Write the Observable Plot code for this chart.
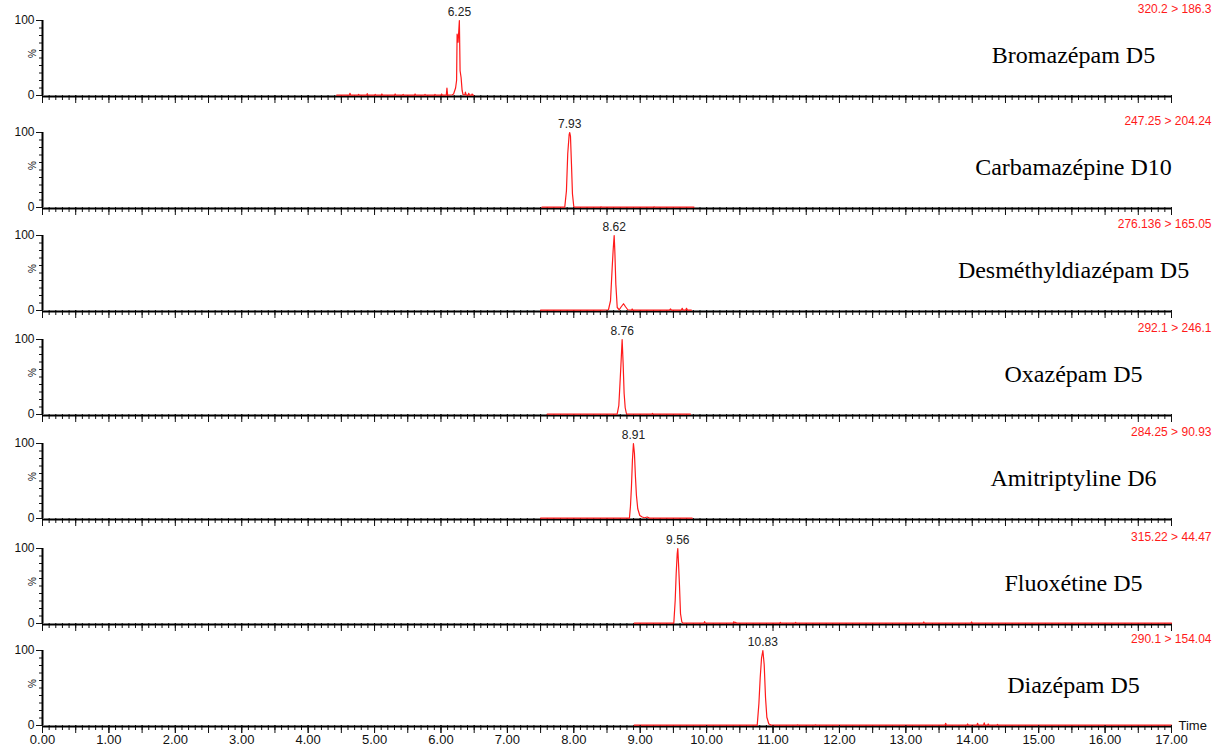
<!DOCTYPE html>
<html>
<head>
<meta charset="utf-8">
<script src="https://cdn.jsdelivr.net/npm/d3@7"></script>
<script src="https://cdn.jsdelivr.net/npm/@observablehq/plot@0.6"></script>
<style>
  html, body { margin: 0; padding: 0; background: #fff; }
  #chart { position: relative; width: 1225px; height: 751px; overflow: hidden; }
  #chart svg { position: absolute; left: 0; }
</style>
</head>
<body>
<div id="chart"></div>
<script>
// ---------- data ----------
const compounds = ["Bromazépam D5", "Carbamazépine D10", "Desméthyldiazépam D5", "Oxazépam D5", "Amitriptyline D6", "Fluoxétine D5", "Diazépam D5"];
const transitions = ["320.2 > 186.3", "247.25 > 204.24", "276.136 > 165.05", "292.1 > 246.1", "284.25 > 90.93", "315.22 > 44.47", "290.1 > 154.04"];
const peakLabels = ["6.25", "7.93", "8.62", "8.76", "8.91", "9.56", "10.83"];
const xTickValues = [0, 1, 2, 3, 4, 5, 6, 7, 8, 9, 10, 11, 12, 13, 14, 15, 16, 17];
const yTickValues = [0, 100];

// chromatograms: [time (min), relative intensity (%)]
const bromazepam = [
  [4.43, 0.5], [4.62, 0.5], [4.63, 3], [4.64, 0.5], [4.75, 0.5], [4.76, 1.5], [4.77, 0.5],
  [4.88, 0.5], [4.89, 2.5], [4.90, 0.5], [5.00, 0.5], [5.01, 1.5], [5.02, 0.5], [5.10, 0.5],
  [5.11, 2], [5.12, 0.5], [5.30, 0.5], [5.31, 2], [5.32, 0.5], [5.42, 0.5], [5.43, 1.5],
  [5.44, 0.5], [5.60, 0.5], [5.61, 2], [5.62, 0.5], [5.75, 0.5], [5.76, 1.5], [5.77, 0.5],
  [5.90, 0.5], [5.91, 1.5], [5.92, 0.5], [6.00, 0.5], [6.01, 2], [6.02, 0.5], [6.08, 0.5],
  [6.09, 10], [6.10, 0.5], [6.17, 1], [6.19, 2], [6.22, 10], [6.235, 20], [6.243, 82],
  [6.258, 71], [6.277, 100], [6.288, 33], [6.303, 24], [6.318, 7], [6.333, 1],
  [6.36, 1], [6.368, 4.4], [6.38, 0.5], [6.41, 0.5], [6.418, 3], [6.43, 0.5], [6.46, 0.5],
  [6.469, 2], [6.48, 0.5], [6.49, 0.5]
];
const carbamazepine = [
  [7.52, 0.5], [7.70, 0.5], [7.864, 0.5], [7.889, 22], [7.909, 72], [7.93, 97], [7.939, 100],
  [7.95, 95], [7.965, 58], [7.98, 18], [8.0, 1], [8.02, 0.5], [8.40, 0.5], [8.41, 1], [8.42, 0.5],
  [9.20, 0.5], [9.21, 1], [9.22, 0.5], [9.81, 0.5]
];
const desmethyldiazepam = [
  [7.50, 0.5], [8.40, 0.5], [8.522, 1], [8.553, 13], [8.578, 57], [8.593, 81], [8.608, 100],
  [8.618, 79], [8.633, 35], [8.654, 4], [8.684, 1], [8.714, 5], [8.749, 9], [8.779, 5],
  [8.813, 1], [8.87, 0.5], [8.879, 2], [8.89, 0.5], [9.44, 0.5], [9.456, 2], [9.47, 0.5],
  [9.62, 0.5], [9.632, 3], [9.645, 0.5], [9.685, 0.5], [9.697, 3], [9.71, 0.5], [9.77, 0.5]
];
const oxazepam = [
  [7.60, 0.5], [8.50, 0.5], [8.653, 0.5], [8.678, 12], [8.693, 37], [8.708, 63], [8.728, 100],
  [8.743, 68], [8.758, 28], [8.774, 9], [8.793, 1], [8.81, 0.5], [9.175, 0.5], [9.185, 1.5],
  [9.195, 0.5], [9.757, 0.5]
];
const amitriptyline = [
  [7.50, 0.5], [8.70, 0.5], [8.838, 0.5], [8.853, 16], [8.868, 42], [8.883, 78], [8.898, 100],
  [8.913, 87], [8.928, 56], [8.943, 31], [8.963, 13], [8.994, 4], [9.03, 2], [9.064, 1],
  [9.105, 2], [9.14, 0.5], [9.783, 0.5]
];
const fluoxetine = [
  [8.91, 0.5], [9.30, 0.5], [9.506, 0.5], [9.527, 31], [9.542, 67], [9.557, 93], [9.566, 100],
  [9.577, 80], [9.592, 49], [9.607, 13], [9.627, 2], [9.646, 0.5], [9.96, 0.5], [9.97, 2.5],
  [9.98, 0.5], [10.40, 0.5], [10.41, 2.5], [10.42, 0.5], [10.44, 1.5], [10.45, 0.5],
  [11.10, 0.5], [11.11, 1.5], [11.12, 0.5], [11.33, 0.5], [11.34, 1.5], [11.35, 0.5],
  [13.26, 0.5], [13.27, 2], [13.28, 0.5], [13.98, 0.5], [13.99, 2], [14.00, 0.5], [17.0, 0.5]
];
const diazepam = [
  [8.91, 0.5], [10.60, 0.5], [10.762, 0.5], [10.787, 29], [10.807, 64], [10.827, 90], [10.847, 100],
  [10.867, 81], [10.887, 37], [10.907, 11], [10.937, 2], [10.973, 0.5], [11.36, 0.5], [11.37, 1],
  [11.38, 0.5], [11.63, 0.5], [11.64, 1], [11.65, 0.5], [13.59, 0.5], [13.60, 3], [13.61, 0.5],
  [13.92, 0.5], [13.93, 2], [13.94, 0.5], [14.07, 0.5], [14.08, 3], [14.09, 0.5], [14.17, 0.5],
  [14.18, 3.5], [14.19, 0.5], [14.23, 0.5], [14.24, 2], [14.25, 0.5], [14.37, 0.5], [14.38, 1.5],
  [14.39, 0.5], [17.0, 0.5]
];
const traces = [bromazepam, carbamazepine, desmethyldiazepam, oxazepam, amitriptyline, fluoxetine, diazepam];

// ---------- layout ----------
const panelTops = [0, 112, 215, 319, 423, 528, 630];
const W = 1225, H = 751;
const mLeft = 42, mRight = 54, mTop = 20, plotH = 75;
const red = "#ff1a1a";
const minorX = d3.range(0, 17.001, 0.1).map(d => +d.toFixed(1));
const halfX = d3.range(0, 17.001, 0.5);
const minorY = d3.range(10, 100, 10);

const chart = document.getElementById("chart");

compounds.forEach((name, i) => {
  const top = panelTops[i];
  const height = (i < compounds.length - 1 ? panelTops[i + 1] : H) - top;
  const last = i === compounds.length - 1;
  const trace = traces[i];
  const apex = d3.greatest(trace, d => d[1]);

  const marks = [
    Plot.axisX({ticks: minorX, tickSize: 5, tickFormat: () => "", label: null, strokeWidth: 1}),
    Plot.axisX({ticks: halfX, tickSize: 8, tickFormat: () => "", label: null, strokeWidth: 1}),
    Plot.axisY({ticks: minorY, tickSize: 3, tickFormat: () => "", label: null}),
    Plot.axisY({ticks: yTickValues, tickSize: 6, tickPadding: 2, fontSize: 12, label: null}),
    Plot.text(["%"], {frameAnchor: "left", dx: -10, rotate: -90, fontSize: 10, fill: "#111"}),
    Plot.ruleY([0], {x1: 0, x2: 17, stroke: "black", strokeWidth: 2, dy: 1}),
    Plot.ruleX([0], {y1: 0, y2: 100, stroke: "black", strokeWidth: 2}),
    Plot.line(trace, {x: d => d[0], y: d => d[1], stroke: red, strokeWidth: 1.2}),
    Plot.text([apex], {x: d => d[0], y: d => d[1], text: () => peakLabels[i], dy: -8, lineAnchor: "middle", fontSize: 12, fill: "#222"}),
    Plot.text([transitions[i]], {frameAnchor: "top-right", dx: 40, dy: -11, textAnchor: "end", lineAnchor: "middle", fontSize: 12, fill: red}),
    Plot.text([name], {frameAnchor: "right", dx: -98, dy: -3, textAnchor: "middle", lineAnchor: "middle", fontSize: 24, fontFamily: "Liberation Serif", fill: "#000"})
  ];
  if (last) {
    marks.push(Plot.axisX({ticks: xTickValues, tickSize: 8, tickPadding: 1, tickFormat: d => d.toFixed(2), fontSize: 13, label: null}));
    marks.push(Plot.text(["Time"], {frameAnchor: "bottom-right", dx: 7, textAnchor: "start", lineAnchor: "middle", fontSize: 13, fill: "#111"}));
  }

  const svg = Plot.plot({
    width: W,
    height,
    marginLeft: mLeft,
    marginRight: mRight,
    marginTop: mTop,
    marginBottom: height - mTop - plotH,
    x: {domain: [0, 17]},
    y: {domain: [0, 100]},
    style: {fontFamily: "Liberation Sans, Arial, sans-serif", background: "transparent", overflow: "visible", color: "#111"},
    marks
  });
  svg.style.top = top + "px";
  chart.appendChild(svg);
});
</script>
</body>
</html>
